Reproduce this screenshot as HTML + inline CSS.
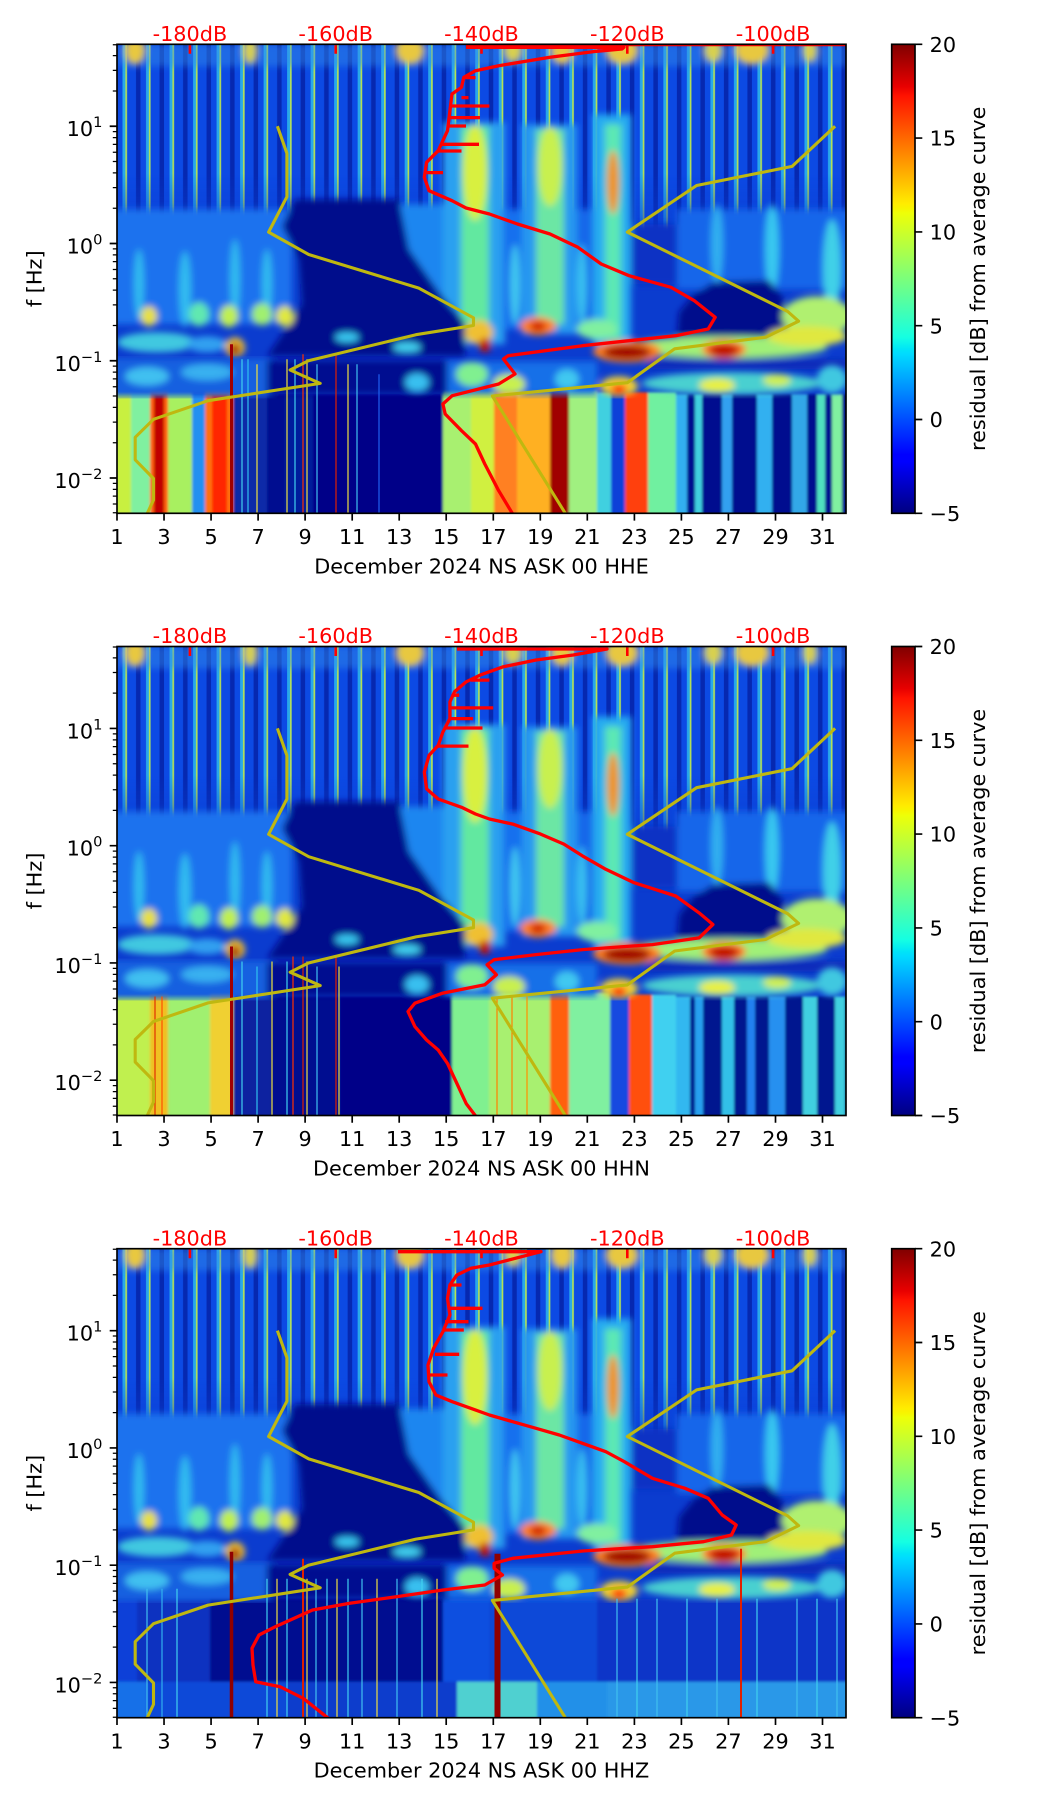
<!DOCTYPE html>
<html><head><meta charset="utf-8"><style>html,body{margin:0;padding:0;background:#fff;}svg{display:block;}</style></head>
<body>
<svg xmlns="http://www.w3.org/2000/svg" xmlns:xlink="http://www.w3.org/1999/xlink" width="1052" height="1806" viewBox="0 0 1052 1806" font-family="DejaVu Sans, Liberation Sans, sans-serif" font-size="20.8">
<defs>
<pattern id="di" patternUnits="userSpaceOnUse" x="0" y="0" width="23.516" height="20">
<rect width="23.516" height="20" fill="#0628b0"/>
<rect x="0" width="19" height="20" fill="#0c4ae4"/>
<rect x="5.5" width="4.5" height="20" fill="#28a8ea"/>
<rect x="8.4" width="1.6" height="20" fill="#b8e050"/>
</pattern>
<linearGradient id="fadeg" x1="0" y1="0" x2="0" y2="1">
<stop offset="0" stop-color="#fff"/><stop offset="0.6" stop-color="#fff"/><stop offset="1" stop-color="#000"/>
</linearGradient>
<mask id="fade" maskUnits="userSpaceOnUse" x="0" y="0" width="729" height="215"><rect x="0" y="0" width="729" height="215" fill="url(#fadeg)"/></mask>
<filter id="b1" x="-5%" y="-5%" width="110%" height="110%"><feGaussianBlur stdDeviation="1.2"/></filter>
<filter id="b3" x="-5%" y="-5%" width="110%" height="110%"><feGaussianBlur stdDeviation="3.5"/></filter>
<clipPath id="pc"><rect x="0" y="0" width="729" height="469"/></clipPath>
<linearGradient id="jet" x1="0" y1="1" x2="0" y2="0">
<stop offset="0" stop-color="#000080"/><stop offset="0.11" stop-color="#0000ff"/><stop offset="0.125" stop-color="#0000ff"/>
<stop offset="0.34" stop-color="#00dbff"/><stop offset="0.35" stop-color="#00e5f7"/><stop offset="0.375" stop-color="#15ffe2"/>
<stop offset="0.5" stop-color="#7bff7b"/><stop offset="0.64" stop-color="#eeff08"/><stop offset="0.65" stop-color="#f7f500"/>
<stop offset="0.66" stop-color="#ffec00"/><stop offset="0.89" stop-color="#ff1300"/><stop offset="0.91" stop-color="#e80000"/>
<stop offset="1" stop-color="#800000"/>
</linearGradient>

<g id="U">
<rect x="0" y="0" width="729" height="469" fill="#0b3ccf"/>
<rect x="0" y="0" width="729" height="215" fill="url(#di)" mask="url(#fade)"/>
<g filter="url(#b3)">
<rect x="0" y="0" width="729" height="22" fill="#3090e8" opacity="0.45"/>
<ellipse cx="18" cy="6" rx="10" ry="14" fill="#e8c840"/>
<ellipse cx="133" cy="6" rx="7" ry="14" fill="#d8d050"/>
<ellipse cx="293" cy="6" rx="14" ry="14" fill="#e8c840"/>
<ellipse cx="396" cy="6" rx="9" ry="12" fill="#d8d050"/>
<ellipse cx="445" cy="6" rx="11" ry="14" fill="#e8c840"/>
<ellipse cx="505" cy="6" rx="16" ry="14" fill="#e8c840"/>
<ellipse cx="596" cy="6" rx="9" ry="12" fill="#d8d050"/>
<ellipse cx="635" cy="6" rx="17" ry="14" fill="#e8c840"/>
<ellipse cx="693" cy="6" rx="7" ry="12" fill="#d8d050"/>
<!-- mid left -->
<rect x="-5" y="165" width="180" height="115" fill="#1a72ee"/>
<ellipse cx="22" cy="240" rx="5" ry="35" fill="#38c8f0" opacity="0.85"/>
<ellipse cx="68" cy="245" rx="6" ry="38" fill="#38c8f0" opacity="0.85"/>
<ellipse cx="118" cy="235" rx="5" ry="40" fill="#38c8f0" opacity="0.85"/>
<ellipse cx="150" cy="240" rx="5" ry="35" fill="#38c8f0" opacity="0.85"/>
<!-- cyan region near C1 -->
<rect x="272" y="160" width="75" height="115" fill="#1a86f0"/>
<!-- C1 -->
<rect x="326" y="78" width="62" height="222" fill="#2aa0f0"/>
<rect x="344" y="82" width="28" height="215" fill="#62e8a0"/>
<ellipse cx="358" cy="128" rx="12" ry="48" fill="#d8f040"/>
<rect x="386" y="165" width="34" height="120" fill="#1870ee"/>
<ellipse cx="398" cy="240" rx="5" ry="40" fill="#40c8f0"/>
<!-- C2 -->
<rect x="405" y="80" width="55" height="210" fill="#2898f0"/>
<rect x="419" y="85" width="28" height="195" fill="#6ce6a4"/>
<ellipse cx="433" cy="122" rx="12" ry="40" fill="#c8f050"/>
<rect x="460" y="165" width="20" height="125" fill="#1468ea"/>
<ellipse cx="465" cy="240" rx="5" ry="40" fill="#38c0f0"/>
<!-- C3 -->
<rect x="476" y="70" width="38" height="230" fill="#28acf0"/>
<rect x="488" y="80" width="16" height="215" fill="#5ce8b4"/>
<ellipse cx="496" cy="138" rx="6" ry="32" fill="#f09020"/>
<rect x="514" y="180" width="48" height="60" fill="#0a32c4"/>
<!-- right mid -->
<rect x="560" y="165" width="175" height="80" fill="#1466ea"/>
<ellipse cx="600" cy="200" rx="6" ry="40" fill="#30b0f0"/>
<ellipse cx="655" cy="205" rx="7" ry="45" fill="#38c8f0"/>
<ellipse cx="715" cy="225" rx="9" ry="50" fill="#40d0e8"/>
<!-- navy regions -->
<polygon points="178,155 282,155 292,205 322,248 348,278 348,312 150,312 165,290 185,260 182,215 165,182" fill="#000a8c"/>
<polygon points="596,238 652,236 664,250 672,275 660,293 560,293 562,268 577,250" fill="#000a8c"/>
<!-- 0.3-0.2 Hz blobs -->
<ellipse cx="32" cy="272" rx="8" ry="10" fill="#e8e040"/>
<ellipse cx="82" cy="270" rx="10" ry="12" fill="#60e8b0"/>
<ellipse cx="112" cy="272" rx="9" ry="11" fill="#c0f050"/>
<ellipse cx="145" cy="270" rx="10" ry="11" fill="#a0f070"/>
<ellipse cx="168" cy="272" rx="9" ry="10" fill="#e0e840"/>
<ellipse cx="362" cy="288" rx="14" ry="12" fill="#f0c030"/>
<ellipse cx="368" cy="301" rx="6" ry="7" fill="#c01000"/>
<ellipse cx="421" cy="282" rx="18" ry="9" fill="#ff8020"/>
<ellipse cx="421" cy="282" rx="8" ry="5" fill="#d02000"/>
<ellipse cx="480" cy="285" rx="20" ry="10" fill="#80f0a0"/>
<ellipse cx="700" cy="272" rx="35" ry="20" fill="#b0f070"/>
<ellipse cx="40" cy="298" rx="40" ry="10" fill="#40c8e0"/>
<ellipse cx="90" cy="300" rx="20" ry="8" fill="#30a0f0"/>
<ellipse cx="118" cy="303" rx="10" ry="10" fill="#f0c030"/>
<ellipse cx="118" cy="305" rx="5" ry="6" fill="#a00000"/>
<ellipse cx="230" cy="293" rx="12" ry="5" fill="#38c8f0"/>
<ellipse cx="290" cy="303" rx="14" ry="5" fill="#40d0f0"/>
<ellipse cx="610" cy="303" rx="100" ry="11" fill="#a0f078"/>
<ellipse cx="690" cy="292" rx="40" ry="10" fill="#e0e840"/>
<ellipse cx="510" cy="307" rx="34" ry="11" fill="#ff8020"/>
<ellipse cx="510" cy="308" rx="24" ry="7" fill="#a00000"/>
<ellipse cx="607" cy="305" rx="22" ry="9" fill="#ff7020"/>
<ellipse cx="607" cy="306" rx="15" ry="6" fill="#c00000"/>
<rect x="530" y="315" width="200" height="10" fill="#0a2cb8"/>
</g>
</g>

<g id="M">
<g filter="url(#b3)">
<rect x="-5" y="314" width="160" height="38" fill="#1460e0"/>
<ellipse cx="30" cy="332" rx="22" ry="9" fill="#40c0f0"/>
<ellipse cx="90" cy="328" rx="26" ry="8" fill="#38b0f0"/>
<rect x="150" y="316" width="180" height="34" fill="#000a90"/>
<ellipse cx="300" cy="338" rx="12" ry="9" fill="#38c0f0"/>
<rect x="330" y="317" width="150" height="33" fill="#1870e8"/>
<ellipse cx="355" cy="330" rx="16" ry="12" fill="#80f090"/>
<ellipse cx="392" cy="340" rx="16" ry="10" fill="#c8f050"/>
<ellipse cx="450" cy="335" rx="12" ry="10" fill="#40c8f0"/>
<ellipse cx="502" cy="342" rx="19" ry="10" fill="#f0d030"/>
<ellipse cx="502" cy="345" rx="8" ry="5" fill="#ff3000"/>
<ellipse cx="615" cy="339" rx="90" ry="11" fill="#48d0d0"/>
<ellipse cx="600" cy="341" rx="18" ry="7" fill="#e8f040"/>
<ellipse cx="660" cy="336" rx="14" ry="6" fill="#d0f050"/>
<ellipse cx="715" cy="335" rx="15" ry="14" fill="#40c8e0"/>
</g>
</g>

<g id="OL" fill="none" stroke="#bfb810" stroke-width="3.1" stroke-linejoin="round">
<polyline points="160.4,81.9 169.9,109.0 169.9,152.5 151.6,187.8 191.7,210.2 301.8,243.8 356.5,273.5 356.5,281.2 298.9,290.4 191.4,316.5 173.1,325.7 203.2,339.1 91.1,356.4 36.5,375.0 18.2,393.0 18.2,415.5 36.5,434.2 36.5,455.7 30.3,469.0"/>
<polyline points="718.1,81.9 675.1,122.1 579.6,141.2 510.3,187.8 670.7,267.2 681.6,276.9 648.8,292.9 557.7,304.5 510.3,338.4 375.4,351.7 448.3,469.0"/>
</g>

<g id="TK">
<path d="M72.9 0.8V9.5M218.7 0.8V9.5M364.5 0.8V9.5M510.3 0.8V9.5M656.1 0.8V9.5" stroke="#ff0000" stroke-width="2.6"/>
<rect x="0" y="0" width="729" height="469" fill="none" stroke="#000" stroke-width="1.67"/>
<path d="M-7.3 81.96H0M-7.3 199.21H0M-7.3 316.46H0M-7.3 433.71H0" stroke="#000" stroke-width="1.67"/>
<path d="M-4.2 0.5H0M-4.2 11.37H0M-4.2 26.02H0M-4.2 46.66H0M-4.2 87.33H0M-4.2 93.32H0M-4.2 100.12H0M-4.2 107.97H0M-4.2 117.26H0M-4.2 128.62H0M-4.2 143.27H0M-4.2 163.91H0M-4.2 204.58H0M-4.2 210.57H0M-4.2 217.37H0M-4.2 225.22H0M-4.2 234.51H0M-4.2 245.87H0M-4.2 260.52H0M-4.2 281.16H0M-4.2 321.83H0M-4.2 327.82H0M-4.2 334.62H0M-4.2 342.47H0M-4.2 351.76H0M-4.2 363.12H0M-4.2 377.77H0M-4.2 398.41H0M-4.2 439.08H0M-4.2 445.07H0M-4.2 451.87H0M-4.2 459.72H0M-4.2 468.5H0" stroke="#000" stroke-width="1.25"/>
<path d="M0 469V476.3M47.03 469V476.3M94.06 469V476.3M141.1 469V476.3M188.1 469V476.3M235.2 469V476.3M282.2 469V476.3M329.2 469V476.3M376.3 469V476.3M423.3 469V476.3M470.3 469V476.3M517.4 469V476.3M564.4 469V476.3M611.4 469V476.3M658.5 469V476.3M705.5 469V476.3" stroke="#000" stroke-width="1.67"/>
</g>

<g id="CB">
<rect x="0" y="0" width="23.3" height="469" fill="url(#jet)" stroke="#000" stroke-width="1.67"/>
<path d="M23.3 0h7.3M23.3 93.8h7.3M23.3 187.6h7.3M23.3 281.4h7.3M23.3 375.2h7.3M23.3 469h7.3" stroke="#000" stroke-width="1.67"/>
</g>
</defs>

<rect x="0" y="0" width="1052" height="1806" fill="#ffffff"/>

<!-- ================= PANEL 1 ================= -->
<g transform="translate(117,44.3)">
<g clip-path="url(#pc)">
<use xlink:href="#U" href="#U"/>
<g filter="url(#b1)">
<rect x="-3" y="348" width="17" height="125" fill="#c8f040"/>
<rect x="14" y="348" width="19" height="125" fill="#80f0a0"/>
<rect x="33" y="344" width="18" height="129" fill="#ff6010"/>
<rect x="37" y="350" width="10" height="123" fill="#c00000"/>
<rect x="51" y="348" width="24" height="125" fill="#a8f060"/>
<rect x="75" y="350" width="13" height="123" fill="#2090f0"/>
<rect x="88" y="344" width="28" height="129" fill="#ff7010"/>
<rect x="95" y="350" width="15" height="123" fill="#ff2800"/>
<rect x="116" y="350" width="34" height="123" fill="#0c2aa8"/>
<rect x="150" y="350" width="18" height="123" fill="#000a90"/>
<rect x="168" y="350" width="28" height="123" fill="#061a9c"/>
<rect x="196" y="350" width="130" height="123" fill="#000088"/>
<rect x="326" y="346" width="28" height="127" fill="#a8f070"/>
<rect x="354" y="346" width="23" height="127" fill="#d0f040"/>
<rect x="377" y="346" width="23" height="127" fill="#ff8020"/>
<rect x="400" y="346" width="33" height="127" fill="#ffb020"/>
<rect x="433" y="346" width="19" height="127" fill="#a00000"/>
<rect x="452" y="346" width="28" height="127" fill="#a0f080"/>
<rect x="480" y="348" width="14" height="125" fill="#40d0e0"/>
<rect x="494" y="350" width="14" height="123" fill="#0c40d8"/>
<rect x="508" y="348" width="23" height="125" fill="#ff4010"/>
<rect x="531" y="348" width="28" height="125" fill="#70f0a0"/>
<rect x="559" y="350" width="175" height="123" fill="#03108f"/>
<rect x="559" y="350" width="11" height="123" fill="#30b0f0"/>
<rect x="578" y="350" width="7" height="123" fill="#40d0e0"/>
<rect x="605" y="350" width="10" height="123" fill="#30a0f0"/>
<rect x="640" y="350" width="15" height="123" fill="#30b0f0"/>
<rect x="675" y="350" width="15" height="123" fill="#30a8e8"/>
<rect x="700" y="350" width="8" height="123" fill="#50e0c0"/>
<rect x="715" y="350" width="10" height="123" fill="#80f0a0"/>
</g>
<use xlink:href="#M" href="#M"/>
<g stroke-width="1.2">
<path d="M125 315V469" stroke="#40d0f0"/><path d="M131 315V469" stroke="#30c0f0"/><path d="M140 320V469" stroke="#f0e040"/>
<path d="M170 315V469" stroke="#f0e040"/><path d="M178 315V469" stroke="#40d0f0"/><path d="M186 310V469" stroke="#ff3000"/>
<path d="M190 315V469" stroke="#f0e040"/><path d="M200 320V469" stroke="#40c0f0"/><path d="M219 310V469" stroke="#e02000"/>
<path d="M231 320V469" stroke="#f0e040"/><path d="M240 320V469" stroke="#40c0f0"/><path d="M262 330V469" stroke="#2060f0"/>
<path d="M114.5 300V469" stroke="#a00000" stroke-width="3"/>
</g>
<use xlink:href="#OL" href="#OL"/>
<g fill="none" stroke="#ff0000" stroke-width="3.3" stroke-linejoin="round">
<path d="M349 1H729" stroke-width="2"/>
<polyline points="349,3 507,3 505,4.7 479.5,7 433,13 381.7,21.4 358.5,26.4 346.8,33 344.5,43 335,49.7 332.9,66.4 330.5,86.4 321.2,106.4 309.6,118 307.3,133 312,146.4 335,156.4 349,163.7 372.4,169.7 400.4,179.7 433,189.7 460.9,203 484.2,219.7 512.1,231.4 554,243 577.3,256.4 598.2,273 591.2,284.7 558.7,291.4 465.5,301.4 391.1,311.4 386.4,314.7 398,329.7 381.7,339.7 335.2,351.4 325.9,359.7 328.2,369.7 344.5,386.4 358.5,399.7 367.8,419.7 381.7,446.4 395.7,469.7"/>
<path d="M346.8 33.3H358.5M344.5 53.3H351.5M335 61.7H372.4M333 73.3H363M331.5 81.7H349M323.6 100H362M321 106.7H344.5M309.6 128.3H326"/>
</g>
</g>
<use xlink:href="#TK" href="#TK"/>
<g text-anchor="end" fill="#000">
<text x="-14.6" y="91.9">10<tspan dy="-9" font-size="14.6">1</tspan></text>
<text x="-14.6" y="209.2">10<tspan dy="-9" font-size="14.6">0</tspan></text>
<text x="-14.6" y="326.5">10<tspan dy="-9" font-size="14.6">−1</tspan></text>
<text x="-14.6" y="443.7">10<tspan dy="-9" font-size="14.6">−2</tspan></text>
</g>
<g text-anchor="middle" fill="#000">
<text x="0" y="499.6">1</text><text x="47.03" y="499.6">3</text><text x="94.06" y="499.6">5</text><text x="141.1" y="499.6">7</text>
<text x="188.1" y="499.6">9</text><text x="235.2" y="499.6">11</text><text x="282.2" y="499.6">13</text><text x="329.2" y="499.6">15</text>
<text x="376.3" y="499.6">17</text><text x="423.3" y="499.6">19</text><text x="470.3" y="499.6">21</text><text x="517.4" y="499.6">23</text>
<text x="564.4" y="499.6">25</text><text x="611.4" y="499.6">27</text><text x="658.5" y="499.6">29</text><text x="705.5" y="499.6">31</text>
<text x="364.5" y="529">December 2024 NS ASK 00 HHE</text>
<text transform="translate(-75.3,234.5) rotate(-90)">f [Hz]</text>
</g>
<g text-anchor="middle" fill="#ff0000">
<text x="72.9" y="-3.3">-180dB</text><text x="218.7" y="-3.3">-160dB</text><text x="364.5" y="-3.3">-140dB</text><text x="510.3" y="-3.3">-120dB</text><text x="656.1" y="-3.3">-100dB</text>
</g>
</g>
<g transform="translate(891.7,44.3)">
<use xlink:href="#CB" href="#CB"/>
<g fill="#000">
<text x="37.9" y="7.6">20</text><text x="37.9" y="101.4">15</text><text x="37.9" y="195.2">10</text><text x="37.9" y="289">5</text><text x="37.9" y="382.8">0</text><text x="37.9" y="476.6">−5</text>
<text transform="translate(93.3,234.5) rotate(-90)" text-anchor="middle">residual [dB] from average curve</text>
</g>
</g>

<!-- ================= PANEL 2 ================= -->
<g transform="translate(117,646.5)">
<g clip-path="url(#pc)">
<use xlink:href="#U" href="#U"/>
<g filter="url(#b1)">
<rect x="-3" y="348" width="36" height="125" fill="#c0f050"/>
<rect x="33" y="346" width="18" height="127" fill="#f0c020"/>
<rect x="51" y="348" width="42" height="125" fill="#a0f070"/>
<rect x="93" y="346" width="23" height="127" fill="#f0d030"/>
<rect x="116" y="350" width="38" height="123" fill="#0a20a0"/>
<rect x="154" y="350" width="70" height="123" fill="#000a90"/>
<rect x="224" y="350" width="111" height="123" fill="#000088"/>
<rect x="335" y="346" width="37" height="127" fill="#80f090"/>
<rect x="372" y="346" width="61" height="127" fill="#a8f070"/>
<rect x="433" y="346" width="19" height="127" fill="#ff6010"/>
<rect x="452" y="346" width="41" height="127" fill="#80f0a0"/>
<rect x="493" y="350" width="19" height="123" fill="#1848e0"/>
<rect x="512" y="348" width="23" height="125" fill="#ff5010"/>
<rect x="535" y="348" width="24" height="125" fill="#40d0f0"/>
<rect x="559" y="350" width="175" height="123" fill="#03128f"/>
<rect x="559" y="350" width="14" height="123" fill="#30b8f0"/>
<rect x="578" y="350" width="8" height="123" fill="#28a0f0"/>
<rect x="605" y="350" width="12" height="123" fill="#30c0e8"/>
<rect x="630" y="350" width="8" height="123" fill="#2080f0"/>
<rect x="652" y="350" width="16" height="123" fill="#2890f0"/>
<rect x="686" y="350" width="14" height="123" fill="#40d0e0"/>
<rect x="718" y="350" width="10" height="123" fill="#40d0e0"/>
</g>
<use xlink:href="#M" href="#M"/>
<g stroke-width="1.2">
<path d="M38 350V469" stroke="#e03000"/><path d="M45 350V469" stroke="#ff5000"/>
<path d="M125 315V469" stroke="#40d0f0"/><path d="M140 320V469" stroke="#30c0f0"/>
<path d="M155 315V469" stroke="#f0e040"/><path d="M170 315V469" stroke="#40d0f0"/><path d="M176 310V469" stroke="#ff3000"/>
<path d="M186 310V469" stroke="#e02000"/><path d="M190 315V469" stroke="#f0e040"/><path d="M200 320V469" stroke="#40c0f0"/>
<path d="M219 310V469" stroke="#e02000"/><path d="M222 320V469" stroke="#f0e040"/>
<path d="M380 350V469" stroke="#ff8000"/><path d="M395 350V469" stroke="#ff8000"/><path d="M410 350V469" stroke="#ff9000"/>
<path d="M114.5 300V469" stroke="#a00000" stroke-width="3"/>
</g>
<use xlink:href="#OL" href="#OL"/>
<g fill="none" stroke="#ff0000" stroke-width="3.3" stroke-linejoin="round">
<polyline points="340,2.5 490,2.5 456.2,8.5 419,13.5 386.4,20.2 363.1,28.6 349.2,35.3 337.5,45.3 332.9,55.4 332.9,72.1 325.9,85.5 321.2,98.9 312,108.9 307.3,125.7 309.6,142.4 321.2,152.5 344.5,160.8 358.5,167.5 372.4,172.5 395.7,177.6 423.6,187.6 446.9,197.6 465.5,209.4 488.8,222.8 516.8,236.1 558.7,249.5 582,266.3 595.9,278 582,291.4 535.4,298.1 465.5,303.1 419,308.1 377.1,313.2 370.1,318.2 379.4,328.2 367.8,338.3 325.9,346.6 297.9,356.7 291,365 297.9,380.1 309.6,393.5 321.2,403.5 330.5,416.9 339.9,437 349.2,457.1 359,470"/>
<path d="M353.8 33.6H372.4M336 48.7H342.2M331.5 61.4H376.2M332.9 72.1H356.1M328 81.5H365.5M321 99.6H351.5"/>
</g>
</g>
<use xlink:href="#TK" href="#TK"/>
<g text-anchor="end" fill="#000">
<text x="-14.6" y="91.9">10<tspan dy="-9" font-size="14.6">1</tspan></text>
<text x="-14.6" y="209.2">10<tspan dy="-9" font-size="14.6">0</tspan></text>
<text x="-14.6" y="326.5">10<tspan dy="-9" font-size="14.6">−1</tspan></text>
<text x="-14.6" y="443.7">10<tspan dy="-9" font-size="14.6">−2</tspan></text>
</g>
<g text-anchor="middle" fill="#000">
<text x="0" y="499.6">1</text><text x="47.03" y="499.6">3</text><text x="94.06" y="499.6">5</text><text x="141.1" y="499.6">7</text>
<text x="188.1" y="499.6">9</text><text x="235.2" y="499.6">11</text><text x="282.2" y="499.6">13</text><text x="329.2" y="499.6">15</text>
<text x="376.3" y="499.6">17</text><text x="423.3" y="499.6">19</text><text x="470.3" y="499.6">21</text><text x="517.4" y="499.6">23</text>
<text x="564.4" y="499.6">25</text><text x="611.4" y="499.6">27</text><text x="658.5" y="499.6">29</text><text x="705.5" y="499.6">31</text>
<text x="364.5" y="529">December 2024 NS ASK 00 HHN</text>
<text transform="translate(-75.3,234.5) rotate(-90)">f [Hz]</text>
</g>
<g text-anchor="middle" fill="#ff0000">
<text x="72.9" y="-3.3">-180dB</text><text x="218.7" y="-3.3">-160dB</text><text x="364.5" y="-3.3">-140dB</text><text x="510.3" y="-3.3">-120dB</text><text x="656.1" y="-3.3">-100dB</text>
</g>
</g>
<g transform="translate(891.7,646.5)">
<use xlink:href="#CB" href="#CB"/>
<g fill="#000">
<text x="37.9" y="7.6">20</text><text x="37.9" y="101.4">15</text><text x="37.9" y="195.2">10</text><text x="37.9" y="289">5</text><text x="37.9" y="382.8">0</text><text x="37.9" y="476.6">−5</text>
<text transform="translate(93.3,234.5) rotate(-90)" text-anchor="middle">residual [dB] from average curve</text>
</g>
</g>

<!-- ================= PANEL 3 ================= -->
<g transform="translate(117,1248.7)">
<g clip-path="url(#pc)">
<use xlink:href="#U" href="#U"/>
<g filter="url(#b1)">
<rect x="-3" y="350" width="23" height="85" fill="#0a40d8"/>
<rect x="20" y="350" width="73" height="85" fill="#0830c0"/>
<rect x="93" y="350" width="233" height="85" fill="#000c90"/>
<rect x="326" y="350" width="46" height="85" fill="#1050e0"/>
<rect x="372" y="350" width="108" height="85" fill="#0c48d8"/>
<rect x="480" y="350" width="254" height="85" fill="#0836c8"/>
<rect x="-3" y="433" width="33" height="40" fill="#1870e8"/>
<rect x="30" y="433" width="140" height="40" fill="#0c48d8"/>
<rect x="170" y="433" width="170" height="40" fill="#0a3ccc"/>
<rect x="340" y="433" width="80" height="40" fill="#50d0d0"/>
<rect x="420" y="433" width="70" height="40" fill="#2090e8"/>
<rect x="490" y="433" width="244" height="40" fill="#2a98e8"/>
</g>
<use xlink:href="#M" href="#M"/>
<g stroke-width="1.2">
<path d="M30 340V469" stroke="#40c0f0"/><path d="M45 340V469" stroke="#30b0f0"/><path d="M60 340V469" stroke="#40d0f0"/>
<path d="M150 330V469" stroke="#40d0f0"/><path d="M160 330V469" stroke="#f0e040"/><path d="M170 330V469" stroke="#40d0f0"/>
<path d="M190 330V469" stroke="#f0e040"/><path d="M199 330V469" stroke="#40c0f0"/><path d="M210 330V469" stroke="#40d0f0"/>
<path d="M220 330V469" stroke="#f0e040"/><path d="M231 330V469" stroke="#40d0f0"/><path d="M245 330V469" stroke="#40c0f0"/>
<path d="M260 330V469" stroke="#f0e040"/><path d="M280 330V469" stroke="#40c0f0"/><path d="M305 330V469" stroke="#40d0f0"/>
<path d="M320 330V469" stroke="#f0e040"/><path d="M500 350V469" stroke="#40c0f0"/><path d="M520 350V469" stroke="#40d0f0"/>
<path d="M540 350V469" stroke="#40c0f0"/><path d="M570 350V469" stroke="#40d0f0"/><path d="M600 350V469" stroke="#40c0f0"/>
<path d="M640 350V469" stroke="#40d0f0"/><path d="M680 350V469" stroke="#40c0f0"/><path d="M700 350V469" stroke="#40d0f0"/>
<path d="M720 350V469" stroke="#40c0f0"/>
<path d="M186 310V469" stroke="#e02000" stroke-width="2"/>
<path d="M624 300V469" stroke="#e02000" stroke-width="2"/>
<path d="M114.5 303V469" stroke="#900000" stroke-width="3.5"/>
<path d="M380.5 305V469" stroke="#900000" stroke-width="6"/>
</g>
<use xlink:href="#OL" href="#OL"/>
<g fill="none" stroke="#ff0000" stroke-width="3.3" stroke-linejoin="round">
<polyline points="281,3 424,3 372.4,16.3 353.8,19.6 339.9,26.3 332.9,36.3 330.5,49.6 332.9,66.3 325.9,83 316.6,99.6 311,116.3 312,133 318.9,146.3 335.2,153 353.8,159.6 372.4,166.3 395.7,173 419,179.6 442.3,186.3 465.5,194.6 488.8,203 507.4,213 535.4,229.6 568,239.6 591.2,249.6 605.2,266.3 619.2,276.3 614.5,286.3 586.6,293 535.4,298 465.5,302.3 395.7,309.6 377.1,314.6 377.1,319.6 385.5,326.3 367.8,336.3 325.9,341.3 279.3,348 232.8,354.6 195.5,361.3 158.3,378 142,386.3 135,399.6 136,416.3 138.7,433 163,438 186.2,449.6 211.8,470"/>
<path d="M332.9 36.3H344.5M331.5 59.6H365.5M328 73H351.5M326.5 81.3H346.8M318 105.6H342.2M311 126.3H330.5"/>
</g>
</g>
<use xlink:href="#TK" href="#TK"/>
<g text-anchor="end" fill="#000">
<text x="-14.6" y="91.9">10<tspan dy="-9" font-size="14.6">1</tspan></text>
<text x="-14.6" y="209.2">10<tspan dy="-9" font-size="14.6">0</tspan></text>
<text x="-14.6" y="326.5">10<tspan dy="-9" font-size="14.6">−1</tspan></text>
<text x="-14.6" y="443.7">10<tspan dy="-9" font-size="14.6">−2</tspan></text>
</g>
<g text-anchor="middle" fill="#000">
<text x="0" y="499.6">1</text><text x="47.03" y="499.6">3</text><text x="94.06" y="499.6">5</text><text x="141.1" y="499.6">7</text>
<text x="188.1" y="499.6">9</text><text x="235.2" y="499.6">11</text><text x="282.2" y="499.6">13</text><text x="329.2" y="499.6">15</text>
<text x="376.3" y="499.6">17</text><text x="423.3" y="499.6">19</text><text x="470.3" y="499.6">21</text><text x="517.4" y="499.6">23</text>
<text x="564.4" y="499.6">25</text><text x="611.4" y="499.6">27</text><text x="658.5" y="499.6">29</text><text x="705.5" y="499.6">31</text>
<text x="364.5" y="529">December 2024 NS ASK 00 HHZ</text>
<text transform="translate(-75.3,234.5) rotate(-90)">f [Hz]</text>
</g>
<g text-anchor="middle" fill="#ff0000">
<text x="72.9" y="-3.3">-180dB</text><text x="218.7" y="-3.3">-160dB</text><text x="364.5" y="-3.3">-140dB</text><text x="510.3" y="-3.3">-120dB</text><text x="656.1" y="-3.3">-100dB</text>
</g>
</g>
<g transform="translate(891.7,1248.7)">
<use xlink:href="#CB" href="#CB"/>
<g fill="#000">
<text x="37.9" y="7.6">20</text><text x="37.9" y="101.4">15</text><text x="37.9" y="195.2">10</text><text x="37.9" y="289">5</text><text x="37.9" y="382.8">0</text><text x="37.9" y="476.6">−5</text>
<text transform="translate(93.3,234.5) rotate(-90)" text-anchor="middle">residual [dB] from average curve</text>
</g>
</g>
</svg>
</body></html>
